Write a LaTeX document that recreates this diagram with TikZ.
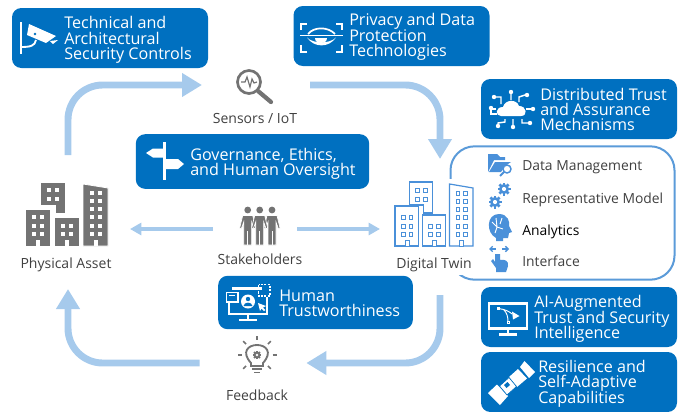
\documentclass[tikz,border=0pt]{standalone}
\usepackage{fontspec}
\setmainfont{Open Sans}
\usetikzlibrary{arrows.meta}
\definecolor{boxblue}{HTML}{0070C0}
\definecolor{flowblue}{HTML}{A6CAEC}
\definecolor{iconblue}{HTML}{4A90D9}
\definecolor{framblue}{HTML}{5B9BD9}
\definecolor{icongray}{HTML}{737373}
\definecolor{labelgray}{HTML}{404040}
\newcommand{\boxfont}{\fontsize{12.1}{11.5}\selectfont\lineskiplimit -10pt\relax}
\tikzset{
	infobox/.style={fill=boxblue,rounded corners=7pt,minimum width=147pt,minimum height=45pt,inner sep=0pt},
	boxtext/.style={right,text=white,align=left,inner sep=0pt,font=\boxfont},
	partlabel/.style={text=labelgray,inner sep=0pt,font=\fontsize{10.5}{12}\selectfont},
	stage/.style={inner sep=0pt,outer sep=0pt},
	flow/.style={draw=flowblue,line width=5.2pt,rounded corners=26pt,-{Triangle[length=15pt,width=17pt]}},
	thinflow/.style={draw=flowblue,line width=2.6pt,-{Triangle[length=8.5pt,width=9pt]}},
	wline/.style={draw=white,line width=1.1pt},
	gline/.style={draw=icongray,line width=1.6pt},
	bline/.style={draw=iconblue,line width=1.1pt}
}
\begin{document}
\begin{tikzpicture}[x=0.75pt,y=-0.75pt]
	\useasboundingbox (0,0) rectangle (681,411);
	
	%a gear: x, y, radius, colour, colour of the hole
	\def\cog#1#2#3#4#5{
		\foreach \a in {0,45,...,315}{
			\draw[#4,line width=#3*0.42pt] (#1,#2) -- ++(\a:#3*1.3);
		}
		\fill[#4] (#1,#2) circle (#3);
		\fill[#5] (#1,#2) circle (#3*0.42);
	}
	%a town: left, bottom, x scale, top of the left block, top of the middle block, wall style, pane style
	\def\city#1#2#3#4#5#6#7{
		\begin{scope}[shift={(#1,#2)},xscale=#3]
			\path[#6] (15,-64)--(40,-64)--(40,-33)--(30,-33)--(30,-41)--(15,-41)--cycle;
			\foreach \x in {22,30}{\foreach \y in {-58,-49}{\path[#7] (\x,\y) rectangle ++(4,4);}}
			\path[#6] (58,-62)--(83,-58)--(83,0)--(58,0)--cycle;
			\foreach \x in {65,73}{\foreach \y in {-55,-47,-39,-31,-22,-14}{\path[#7] (\x,\y) rectangle ++(4,4);}}
			\path[#7] (69,-6) rectangle (73,0);
			\path[#6] (0,#4) rectangle (25,0);
			\foreach \x in {7,15}{\foreach \y in {-31,-22,-14}{\path[#7] (\x,\y) rectangle ++(4,4);}}
			\path[#7] (11,-6) rectangle (15,0);
			\path[#6] (29,#5) rectangle (54,0);
			\foreach \x in {36,44}{\foreach \y in {-22,-14}{\path[#7] (\x,\y) rectangle ++(4,4);}}
			\path[#7] (40,-6) rectangle (44,0);
		\end{scope}
	}
	
	%STAGES
	\node[stage,minimum width=93pt,minimum height=100.5pt] (physical) at (68,222) {};
	\node[stage,minimum width=81pt,minimum height=1pt] (sensors) at (256,85) {};
	\node[stage,minimum width=90pt,minimum height=102pt] (twin) at (440,227) {};
	\node[stage,minimum width=80pt,minimum height=1pt] (feedback) at (253,363) {};
	\node[stage,minimum width=63pt,minimum height=1pt] (stakeholders) at (255,229) {};
	
	%FLOWS
	\draw[flow] (physical.north) |- (sensors.west);
	\draw[flow] (sensors.east) -| (twin.north);
	\draw[flow] (twin.south) |- (feedback.east);
	\draw[flow] (feedback.west) -| (physical.south);
	\draw[thinflow] (stakeholders.west) -- (stakeholders.west -| physical.east);
	\draw[thinflow] (stakeholders.east) -- (stakeholders.east -| twin.west);
	
	%BLUE BOXES
	\node[infobox] (techbox) at (110,38) {};
	\node[infobox] (privacybox) at (391.5,36) {};
	\node[infobox] (trustbox) at (579,109) {};
	\node[infobox,minimum width=175pt,minimum height=41pt] (govbox) at (252.5,161.5) {};
	\node[infobox,minimum width=146pt,minimum height=40pt] (humanbox) at (315.5,302.5) {};
	\node[infobox] (aibox) at (579,317) {};
	\node[infobox] (resbox) at (579,382) {};
	%
	\node[boxtext] (techtext) at (64,40) {Technical and\\Architectural\\Security Controls};
	\node[boxtext] (privacytext) at (349,37) {Privacy and Data\\Protection\\Technologies};
	\node[boxtext] (trusttext) at (540,109.5) {Distributed Trust\\and Assurance\\Mechanisms};
	\node[boxtext] (govtext) at (190,163.5) {Governance, Ethics,\\and Human Oversight};
	\node[boxtext] (humantext) at (279,303) {Human\\Trustworthiness};
	\node[boxtext] (aitext) at (534,319) {AI-Augmented\\Trust and Security\\Intelligence};
	\node[boxtext] (restext) at (538,383.5) {Resilience and\\Self-Adaptive\\Capabilities};
	
	%TWIN PARTS
	\node[draw=framblue,line width=1.5pt,fill=white,rounded corners=18pt,minimum width=168pt,minimum height=100pt,inner sep=0pt] (partsbox) at (562.5,213) {};
	\node[partlabel,right,font=\fontsize{10.4}{12}\selectfont] (datatext) at (522,167.5) {Data Management};
	\node[partlabel,right,font=\fontsize{10.4}{12}\selectfont] (modeltext) at (522,199.5) {Representative Model};
	\node[partlabel,right,text=black,font=\fontsize{10.4}{12}\selectfont] (analyticstext) at (522,231.5) {Analytics};
	\node[partlabel,right,font=\fontsize{10.4}{12}\selectfont] (interfacetext) at (522,261) {Interface};
	
	%STAGE LABELS
	\node[partlabel] (sensorstext) at (255,118) {Sensors / IoT};
	\node[partlabel] (stakeholderstext) at (260,259) {Stakeholders};
	\node[partlabel] (physicaltext) at (66,264.5) {Physical Asset};
	\fill[white] (448,244) rectangle (453,262);
	\node[partlabel,fill=white,inner ysep=2pt,inner xsep=1pt] (twintext) at (434,265) {Digital Twin};
	\node[partlabel] (feedbacktext) at (257,395) {Feedback};
	
	%TOWNS
	\city{25}{246}{1}{-37}{-29}{fill=icongray,draw=white,line width=0.6pt}{fill=white}
	\fill[white] (448,179) rectangle (452,190);
	\city{395}{246}{0.94}{-40}{-31}{fill=white,draw=iconblue,line width=0.9pt}{fill=white,draw=iconblue,line width=0.6pt}
	
	%MAGNIFIER
	\draw[gline,line width=2pt] (249,82) circle (11.5);
	\draw[gline,line width=3.2pt,line cap=round] (258,91)--(271,102);
	\draw[gline,line width=0.9pt] (241,82)--(245,82)--(247,77)--(250,87)--(252,79)--(254,83)--(257,82);
	
	%PEOPLE
	\foreach \x in {247.7,272,259.7}{
		\fill[icongray] (\x,210) circle (3.4);
		\path[fill=icongray,draw=white,line width=0.5pt] (\x-5,215.5)--(\x+5,215.5)--(\x+8,228)--(\x+6.5,229)--(\x+4,222)--(\x+4,245)--(\x-4,245)--(\x-4,222)--(\x-6.5,229)--(\x-8,228)--cycle;
		\draw[white,line width=0.5pt] (\x,231)--(\x,245);
	}
	
	%BULB
	\draw[gline,line width=1.4pt] (251,366)--(251,363) .. controls (241,352) and (248,345) .. (257,345) .. controls (266,345) and (273,352) .. (263,363)--(263,366)--cycle;
	\draw[gline,line width=1.4pt] (252,369)--(262,369);
	\draw[gline,line width=1.4pt] (254,372.5)--(260,372.5);
	\cog{257}{355}{3.2}{icongray}{white}
	\foreach \a in {-180,-135,-90,-45,0,135,45}{
		\draw[gline,line width=1.1pt] (257,355)++(\a:15.5)--++(\a:4);
	}
	
	%CAMERA
	\draw[wline,line width=1.8pt] (21,22)--(21,54);
	\draw[wline,line width=1.4pt] (21,47) .. controls (30,47) and (35,46) .. (36,40);
	\fill[white] (29,24)--(56,36)--(46,43)--(27,35)--cycle;
	\fill[boxblue] (35,34) circle (1.4);
	\fill[white] (50,41)--(58,40)--(53,44)--cycle;
	
	%EYE
	\foreach \x/\s in {301/1,342/-1}{
		\draw[wline,line width=1.5pt] (\x+\s*6,23.5)--(\x,23.5)--(\x,30);
		\draw[wline,line width=1.5pt] (\x+\s*6,51.5)--(\x,51.5)--(\x,45);
	}
	\draw[wline] (300,35.5)--(343,35.5);
	\draw[wline,line width=1.3pt] (308,34) .. controls (314,26.5) and (328,26.5) .. (335,34);
	\fill[white] (307,37.5) .. controls (314,48) and (329,48) .. (336,37.5) .. controls (330,44) and (313,44) .. cycle;
	\fill[white] (315,37.5) .. controls (315,45) and (327,45) .. (327,37.5)--cycle;
	
	%CLOUD
	\fill[white] (501,116) .. controls (495,116) and (495,107) .. (503,107) .. controls (505,99) and (517,99) .. (519,106) .. controls (527,106) and (528,116) .. (521,116)--cycle;
	\draw[wline] (511,92)--(511,100) (494,97)--(501,97)--(501,104) (525,95)--(519,97)--(519,102);
	\draw[wline] (526,109)--(533,109) (496,109)--(491,109)--(491,114)--(497,114);
	\draw[wline] (513,119)--(513,127) (505,119)--(505,122)--(498,123)--(498,125) (522,119)--(522,123)--(530,123);
	\foreach \x/\y in {511/92,494/97,527/95,533/109,491/108,513/127,498/126,530/123}{
		\fill[white] (\x,\y) circle (2.2);
	}
	
	%SIGNPOST
	\draw[wline,line width=2.4pt] (164.5,142)--(164.5,180);
	\fill[white] (146,153)--(153,148.5)--(163,148.5)--(163,157.5)--(153,157.5)--cycle;
	\fill[white] (166,159)--(178,159)--(184,164)--(178,169)--(166,169)--cycle;
	
	%HUMAN SCREEN
	\draw[wline,line width=1.6pt] (232,288.5)--(262,288.5) (267,297)--(267,314)--(229,314)--(229,303);
	\draw[wline,line width=1.6pt] (248,314)--(248,319) (239,320)--(257,320);
	\draw[wline,fill=boxblue] (226.5,292.5) rectangle (238,302);
	\draw[wline,line width=0.8pt] (229,295.5)--(235,295.5);
	\fill[white] (248,301.5) circle (7);
	\fill[boxblue] (248,299) circle (2.2);
	\fill[boxblue] (243.5,306) .. controls (244,301.5) and (252,301.5) .. (252.5,306)--cycle;
	\draw[wline,dash pattern=on 1.6pt off 1pt] (258.5,284.5) rectangle (270,296);
	\fill[white] (258,303)--(266,306)--(263,307.5)--(265.5,310)--(264,311)--(261.5,308.5)--(260,311)--cycle;
	
	%AI SCREEN
	\draw[wline,line width=1.8pt] (489,303.5) rectangle (527,328.5);
	\draw[wline,line width=1.8pt] (508,329)--(508,334);
	\fill[white] (499,333) rectangle (517,335.5);
	\draw[wline,line width=0.7pt] (498,308.5) .. controls (505,309) and (510,312) .. (512,314);
	\draw[wline,line width=0.7pt] (508,322) .. controls (508,317) and (507,313) .. (504,310);
	\fill[white] (512,311.5)--(519.5,316)--(513,319.5)--cycle;
	\draw[wline,line width=0.6pt] (497,307) rectangle (499.5,309.5) (507,321) rectangle (509.5,323.5);
	
	%BELT
	\fill[white] (520,367)--(524.5,361)--(535,372)--(529,378)--cycle;
	\fill[white] (488,393)--(497,384.5)--(508,396)--(500,405)--cycle;
	\fill[white] (509,377)--(518,369)--(527,378.5)--(517,387)--cycle;
	\path[fill=white,draw=boxblue,line width=0.5pt] (499.5,386)--(509,377.5)--(516.5,386.5)--(507,395)--cycle;
	\fill[boxblue] (504,385)--(507.5,382)--(510,385)--(506.5,388)--cycle;
	
	%FOLDER
	\fill[iconblue] (488,172)--(488,154)--(497,154)--(500,157)--(505,157)--(505,160)--(494,160)--cycle;
	\fill[iconblue] (489,172)--(495,162)--(511,162)--(505,166)--(501,172)--cycle;
	\draw[bline,fill=white] (507,169) circle (4);
	\draw[bline,line width=1.4pt] (504,172)--(500,176);
	
	%GEARS
	\cog{504}{189}{5}{iconblue}{white}
	\cog{495}{202}{5}{iconblue}{white}
	
	%HEAD
	\fill[iconblue] (496,241)--(496,238) .. controls (486,233) and (486,214) .. (499,214) .. controls (508,214) and (510,222) .. (509,226)--(512,232)--(509,233)--(508,238)--(503,238)--(503,241)--cycle;
	\draw[wline,line width=0.7pt] (492,222)--(497,227)--(495,233) (502,218)--(500,224) (497,227)--(503,229) (496,218)--(497,227);
	
	%HAND
	\fill[iconblue] (495,254)--(500,254)--(500,260) .. controls (505,259) and (509,261) .. (508,266)--(506,272)--(496,272)--(496,268)--(491,261)--(493,259)--(495,262)--cycle;
	\draw[bline,line width=1pt,{Straight Barb[length=2pt,width=4pt]}-] (489,249)--(496,249);
	\draw[bline,line width=1pt,-{Straight Barb[length=2pt,width=4pt]}] (502,249)--(509,249);
\end{tikzpicture}
\end{document}
